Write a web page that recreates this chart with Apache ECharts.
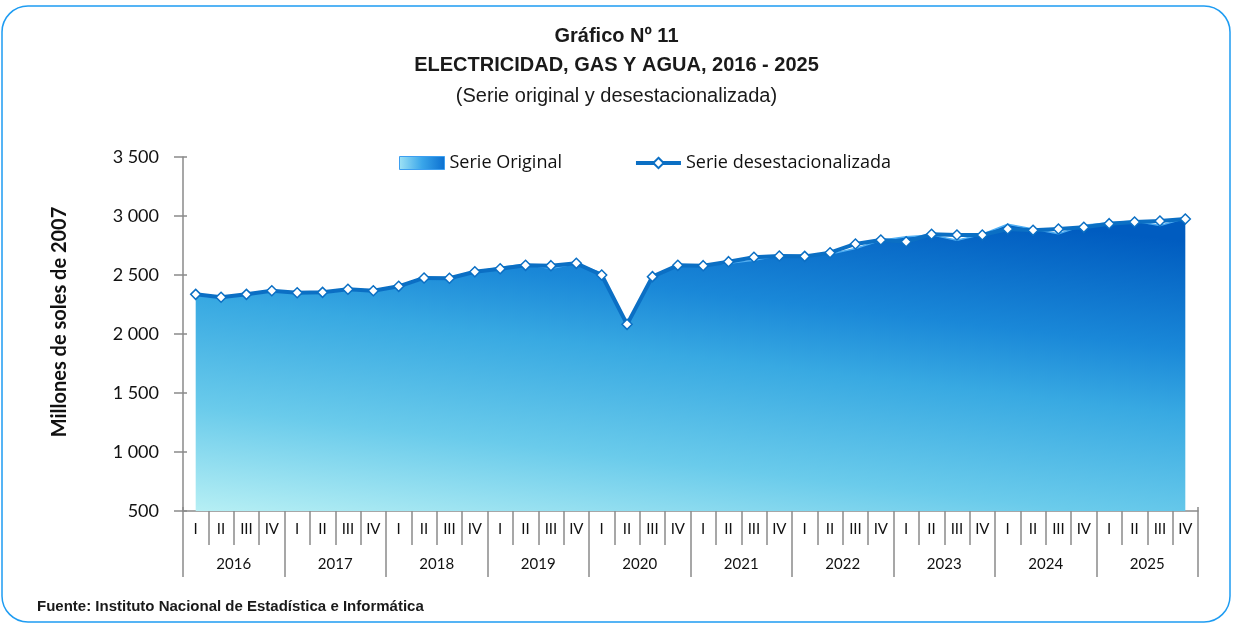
<!DOCTYPE html>
<html>
<head>
<meta charset="utf-8">
<script src="https://cdn.jsdelivr.net/npm/echarts@6/dist/echarts.min.js"></script>
<style>
  html, body { margin: 0; padding: 0; background: #ffffff; }
  #chart { width: 1233px; height: 624px; }
</style>
</head>
<body>
<div id="chart"></div>
<script>
// Quarterly series, millions of 2007 soles
const years = ['2016', '2017', '2018', '2019', '2020', '2021', '2022', '2023', '2024', '2025'];
const quarters = ['I', 'II', 'III', 'IV'];

const serieOriginal = [
  2325, 2305, 2330, 2360,
  2355, 2350, 2372, 2362,
  2400, 2465, 2470, 2525,
  2565, 2592, 2555, 2598,
  2515, 2080, 2478, 2578,
  2582, 2600, 2625, 2665,
  2668, 2678, 2725, 2795,
  2825, 2840, 2795, 2845,
  2930, 2890, 2850, 2922,
  2943, 2958, 2920, 2980
];

const serieDesestacionalizada = [
  2336, 2311, 2336, 2367,
  2350, 2353, 2379, 2367,
  2404, 2475, 2472, 2528,
  2553, 2582, 2579, 2599,
  2500, 2082, 2486, 2582,
  2579, 2613, 2650, 2661,
  2658, 2689, 2763, 2797,
  2782, 2845, 2839, 2839,
  2890, 2879, 2890, 2904,
  2935, 2949, 2958, 2975
];

const yTicks = { min: 500, max: 3500, step: 500 };

// one category per year/quarter pair; the label shows only the quarter
const categories = [];
years.forEach(y => quarters.forEach(q => categories.push(y + ' ' + q)));

const axisGray = '#8a8a8a';
const lineBlue = '#0B6FC4';
const labelFont = 'Lato, "Open Sans", sans-serif';
const legendFont = '"Open Sans", Lato, sans-serif';
const titleFont = '"Liberation Sans Narrow", "Arial Narrow", "Liberation Sans", sans-serif';

const chart = echarts.init(document.getElementById('chart'), null, { renderer: 'canvas' });

const areaGradient = new echarts.graphic.LinearGradient(0, 1, 0.045, -0.3, [
  { offset: 0, color: '#B6EFF4' },
  { offset: 0.27, color: '#6ACBEB' },
  { offset: 0.55, color: '#38A9E2' },
  { offset: 0.72, color: '#1A88D8' },
  { offset: 1, color: '#005CC0' }
]);

const legendGradient = new echarts.graphic.LinearGradient(0, 0, 1, 0, [
  { offset: 0, color: '#9fe3f5' },
  { offset: 0.5, color: '#3aa6ea' },
  { offset: 1, color: '#0b6fd0' }
]);

const grid = { left: 183, right: 35, top: 157, bottom: 113 };

chart.setOption({
  animation: false,
  backgroundColor: '#ffffff',
  title: [
    {
      text: 'Gráfico Nº 11', left: 'center', top: 21,
      textStyle: { fontFamily: titleFont, fontWeight: 'bold', fontSize: 20, color: '#1a1a1a' }
    },
    {
      text: 'ELECTRICIDAD, GAS Y AGUA, 2016 - 2025', left: 'center', top: 50,
      textStyle: { fontFamily: titleFont, fontWeight: 'bold', fontSize: 20, color: '#1a1a1a' }
    },
    {
      text: '(Serie original y desestacionalizada)', left: 'center', top: 81,
      textStyle: { fontFamily: titleFont, fontWeight: 'normal', fontSize: 20, color: '#1a1a1a' }
    },
    {
      text: 'Fuente: Instituto Nacional de Estadística e Informática', left: 32, top: 594,
      textStyle: { fontFamily: titleFont, fontWeight: 'bold', fontSize: 15, color: '#1a1a1a' }
    }
  ],
  legend: {
    left: 394, top: 149,
    itemWidth: 45, itemHeight: 13, itemGap: 72,
    textStyle: { fontFamily: legendFont, fontSize: 18, color: '#111' },
    data: [
      { name: 'Serie Original', icon: 'rect', itemStyle: { color: legendGradient, borderColor: '#3d9ff0', borderWidth: 1 } },
      { name: 'Serie desestacionalizada', lineStyle: { color: lineBlue, width: 4 } }
    ]
  },
  graphic: [
    {
      type: 'rect', silent: true, z: -1,
      shape: { x: 2, y: 6, width: 1228, height: 616, r: 26 },
      style: { fill: 'none', stroke: '#1E9CF2', lineWidth: 1.5 }
    }
  ],
  grid: grid,
  xAxis: [
    {
      type: 'category', data: categories, position: 'bottom', boundaryGap: true,
      axisLine: { show: true, lineStyle: { color: axisGray, width: 1.5 } },
      axisTick: { show: true, interval: 0, length: 34, lineStyle: { color: axisGray, width: 1.5 } },
      axisLabel: {
        interval: 0, margin: 11, fontFamily: labelFont, fontSize: 15, color: '#111',
        formatter: v => v.split(' ')[1]
      },
      splitLine: { show: false }
    },
    {
      type: 'category', data: years, position: 'bottom', boundaryGap: true,
      axisLine: { show: false },
      axisTick: { show: true, interval: 0, length: 66, lineStyle: { color: axisGray, width: 1.5 } },
      axisLabel: { interval: 0, margin: 46, fontFamily: labelFont, fontSize: 15, color: '#111' },
      splitLine: { show: false }
    },
    {
      type: 'category', data: categories, position: 'bottom', boundaryGap: true,
      axisLine: { show: false },
      axisTick: { show: true, inside: true, interval: 0, length: 4, lineStyle: { color: axisGray, width: 1.5 } },
      axisLabel: { show: false },
      splitLine: { show: false }
    }
  ],
  yAxis: [
    {
      type: 'value', min: yTicks.min, max: yTicks.max, interval: yTicks.step,
      name: 'Millones de soles de 2007', nameLocation: 'middle', nameGap: 113, nameRotate: 90,
      nameTextStyle: { fontFamily: labelFont, fontWeight: 'bold', fontSize: 20, color: '#111', padding: [0, 0, 0, 24] },
      axisLine: { show: true, lineStyle: { color: axisGray, width: 1.5 } },
      axisTick: { show: true, length: 9, lineStyle: { color: axisGray, width: 1.5 } },
      axisLabel: {
        margin: 24, fontFamily: labelFont, fontSize: 18, color: '#111',
        formatter: v => String(v).replace(/\B(?=(\d{3})+(?!\d))/g, ' ')
      },
      splitLine: { show: false }
    },
    {
      type: 'value', min: yTicks.min, max: yTicks.max, interval: yTicks.step, position: 'left',
      axisLine: { show: false },
      axisTick: { show: true, inside: true, length: 4, lineStyle: { color: axisGray, width: 1.5 } },
      axisLabel: { show: false },
      splitLine: { show: false }
    }
  ],
  series: [
    {
      name: 'Serie Original', type: 'line', xAxisIndex: 0, yAxisIndex: 0,
      data: serieOriginal, symbol: 'none', z: 2,
      lineStyle: { color: '#4FAEF2', width: 1.5 },
      itemStyle: { color: '#2f95e6' },
      areaStyle: { color: areaGradient, opacity: 1, origin: 'start' }
    },
    {
      name: 'Serie desestacionalizada', type: 'line', xAxisIndex: 0, yAxisIndex: 0,
      data: serieDesestacionalizada, z: 3,
      symbol: 'diamond', symbolSize: 10,
      lineStyle: { color: lineBlue, width: 4 },
      itemStyle: { color: '#ffffff', borderColor: lineBlue, borderWidth: 1.5 }
    }
  ]
});
</script>
</body>
</html>
